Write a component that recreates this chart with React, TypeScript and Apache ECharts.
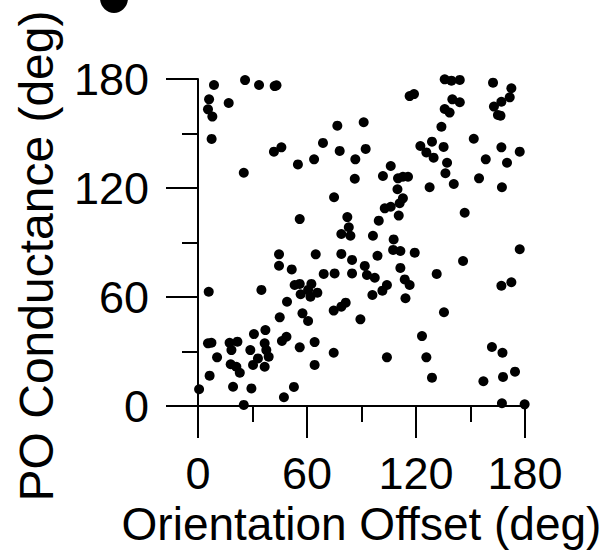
import React, { useEffect, useRef } from "react";
import * as echarts from "echarts";

const offsetDeg: number[] = [
  8.8, 25.9, 33.6, 42.2, 43.2, 6.1, 16.9, 5.5, 7.9, 7.5, 76.7, 91.2, 41.8, 45.9, 68.8, 78.0, 55.0, 63.9, 86.6, 92.3,
  86.3, 25.2, 74.9, 56.0, 82.2, 83.0, 78.9, 83.9,
  135.8, 139.5, 144.1, 162.4, 172.5, 171.6, 167.0, 162.9, 165.1, 166.5, 116.5, 118.9, 140.0, 144.1, 135.8, 138.5,
  134.0, 151.8, 122.4, 128.8, 125.7, 129.7, 135.2, 167.0, 177.1, 158.4, 170.1, 137.1, 136.2, 140.8, 154.7, 167.3,
  127.5, 106.1, 101.8, 110.1, 112.8, 115.6, 109.8, 112.8, 111.0, 102.8, 106.1, 110.5, 99.5, 96.3, 107.7, 146.8,
  44.6, 44.6, 51.6, 64.8, 78.9, 84.8, 84.8, 75.2, 69.2, 5.9, 34.9, 53.2, 56.0, 56.5, 62.4, 60.6, 61.9, 65.7, 49.0,
  74.7, 78.9, 81.3, 89.4, 57.5, 60.6, 45.0, 37.1, 30.8, 46.2, 48.7, 36.7, 37.6, 38.9, 36.7, 28.8, 33.0, 30.3, 56.0,
  64.2, 74.7, 64.2, 5.5, 7.4, 17.4, 21.7, 18.4, 10.5, 18.0, 21.1, 23.0, 6.4, 19.3, 29.4, 0.6, 25.2, 47.3, 52.8,
  107.4, 111.4, 119.3, 98.8, 91.8, 93.0, 97.3, 111.4, 113.8, 116.5, 104.0, 101.5, 96.0, 114.2, 131.4, 145.9, 177.1,
  167.0, 172.5, 135.4, 123.3, 104.0, 125.7, 128.8, 161.8, 167.6, 174.5, 167.9, 157.1, 167.3, 179.8,
];

const conductanceDeg: number[] = [
  176.7, 179.4, 176.7, 176.1, 176.5, 168.8, 166.8, 163.3, 159.3, 147.0, 154.3, 156.2, 140.0, 142.4, 144.8, 140.4,
  133.0, 135.8, 135.8, 141.5, 125.1, 128.4, 114.9, 102.9, 104.0, 98.4, 94.7, 93.7,
  179.8, 179.1, 179.5, 178.0, 174.9, 169.9, 167.5, 164.8, 160.2, 159.8, 170.6, 171.7, 168.8, 167.2, 163.5, 161.5,
  153.7, 147.1, 143.1, 145.5, 139.6, 136.7, 142.6, 142.4, 140.0, 135.8, 133.9, 133.9, 128.1, 122.2, 125.3, 120.4,
  120.4, 132.1, 126.6, 125.3, 126.2, 126.2, 119.3, 114.3, 111.6, 108.8, 109.7, 104.8, 102.0, 93.7, 91.7, 106.4,
  83.5, 77.2, 75.2, 83.5, 83.7, 80.4, 73.0, 73.0, 72.7, 62.9, 63.9, 66.6, 67.2, 61.5, 67.2, 63.9, 60.2, 62.4, 57.4,
  52.5, 54.7, 56.9, 47.7, 51.0, 46.8, 48.8, 41.8, 39.6, 35.8, 38.1, 34.5, 30.8, 27.1, 21.6, 30.8, 26.2, 22.6, 32.3,
  35.2, 29.3, 22.6, 34.5, 34.8, 34.8, 35.4, 30.8, 26.8, 23.0, 21.6, 18.3, 16.7, 10.6, 9.7, 9.2, 0.6, 4.8, 10.5,
  85.9, 85.3, 84.4, 82.7, 77.1, 72.1, 70.6, 76.0, 69.7, 66.6, 66.6, 63.5, 61.1, 59.3, 72.7, 79.8, 86.3,
  66.2, 68.1, 51.6, 38.5, 26.8, 26.8, 15.6, 32.5, 29.3, 18.9, 16.0, 13.6, 1.5, 0.9,
];

const tickValues: number[] = [0, 60, 120, 180];
const xTitle = "Orientation Offset (deg)";
const yTitle = "PO Conductance (deg)";

const FONT = "'Liberation Sans', Arial, Helvetica, sans-serif";

export default function App() {
  const ref = useRef<HTMLDivElement>(null);
  useEffect(() => {
    if (!ref.current) return;
    const chart = echarts.init(ref.current, null, { renderer: "svg" });
    const data = offsetDeg.map((x, i) => [x, conductanceDeg[i]]);
    const axisCommon = (labelMargin: number) => ({
      type: "value" as const,
      min: tickValues[0],
      max: tickValues[tickValues.length - 1],
      interval: tickValues[1] - tickValues[0],
      axisLine: { show: true, onZero: false, lineStyle: { color: "#000", width: 2 } },
      axisTick: { show: true, length: 32, lineStyle: { color: "#000", width: 2 } },
      minorTick: { show: true, splitNumber: 2, length: 16, lineStyle: { color: "#000", width: 2 } },
      axisLabel: { fontSize: 45, color: "#000", fontFamily: FONT, margin: labelMargin },
      splitLine: { show: false },
      minorSplitLine: { show: false },
    });
    chart.setOption({
      animation: false,
      backgroundColor: "#fff",
      grid: { left: 198, top: 79, width: 327, height: 327, containLabel: false },
      xAxis: {
        ...axisCommon(45),
        name: xTitle,
        nameLocation: "middle",
        nameGap: 95,
        nameTextStyle: { fontSize: 46, color: "#000", fontFamily: FONT },
      },
      yAxis: axisCommon(49),
      graphic: [
        { type: "ellipse", shape: { cx: 114, cy: -2, rx: 14, ry: 15 }, style: { fill: "#000" } },
        {
          type: "text",
          x: 36,
          y: 256,
          rotation: Math.PI / 2,
          style: {
            text: yTitle,
            fontSize: 48,
            fontFamily: FONT,
            fill: "#000",
            align: "center",
            verticalAlign: "middle",
          },
        },
      ],
      series: [
        {
          type: "scatter",
          data,
          symbol: "circle",
          symbolSize: 10,
          itemStyle: { color: "#000", opacity: 1 },
          clip: false,
        },
      ],
    });
    return () => chart.dispose();
  }, []);
  return (
    <div
      ref={ref}
      style={{ position: "fixed", left: 0, top: 0, width: 612, height: 552, background: "#fff" }}
    />
  );
}
